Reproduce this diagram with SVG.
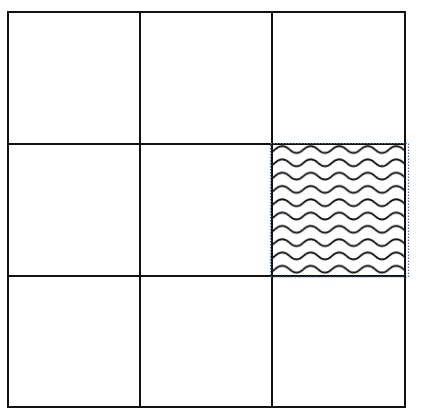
<svg xmlns="http://www.w3.org/2000/svg" width="426" height="409" viewBox="0 0 426 409">
<style>
.grid{stroke:#111;stroke-width:2;fill:none}
.sel{stroke:#4a78aa;stroke-width:1.2;stroke-dasharray:1.5 1.5;fill:none}
</style>
<defs>
<pattern id="wave" patternUnits="userSpaceOnUse" x="268" y="143" width="28.5" height="13.3">
<path d="M0,10 C7,10 7,3 14.25,3 C21.5,3 21.5,10 28.5,10" fill="none" stroke="#111" stroke-width="1.9"/>
</pattern>
</defs>
<rect width="426" height="409" fill="#fff"/>
<g id="hatch">
<rect x="272" y="144" width="133" height="132" fill="url(#wave)"/>
</g>
<g id="grid" class="grid">
<rect x="8" y="12" width="397" height="395"/>
<line x1="140" y1="12" x2="140" y2="407"/>
<line x1="272" y1="12" x2="272" y2="407"/>
<line x1="8" y1="144" x2="405" y2="144"/>
<line x1="8" y1="276" x2="405" y2="276"/>
</g>
<g id="selection">
<rect class="sel" x="270.5" y="143.5" width="138" height="133.5"/>
</g>
</svg>
